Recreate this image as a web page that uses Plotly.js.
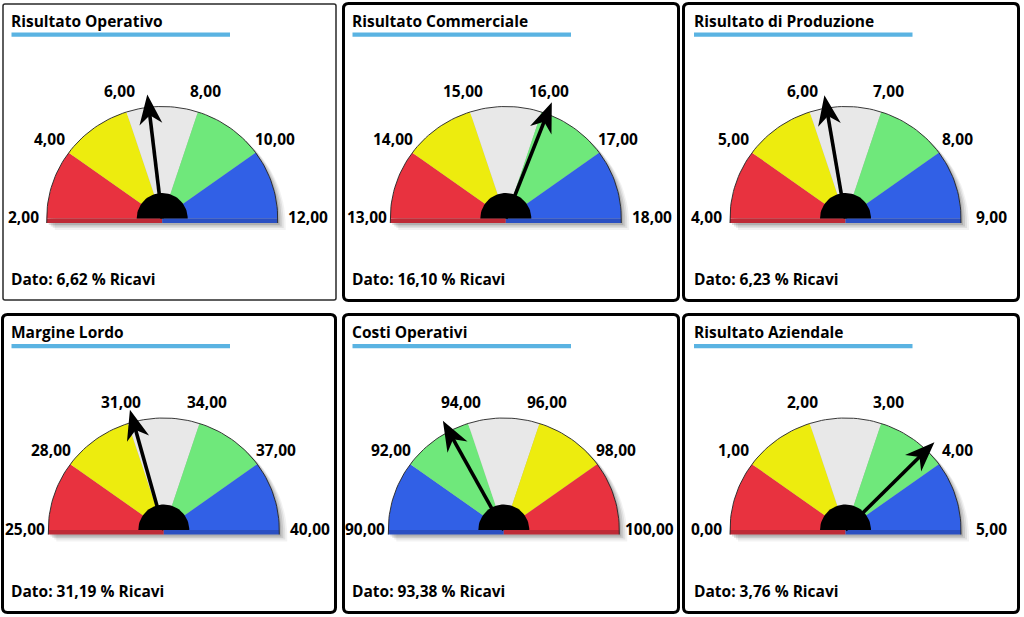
<!DOCTYPE html>
<html><head><meta charset="utf-8">
<script src="https://cdn.plot.ly/plotly-3.0.1.min.js"></script>
<style>html,body{margin:0;padding:0;background:#fff}#chart{width:1024px;height:617px}</style>
</head><body><div id="chart"></div>
<script>
// ---------- DATA ----------
const titles = ["Risultato Operativo","Risultato Commerciale","Risultato di Produzione","Margine Lordo","Costi Operativi","Risultato Aziendale"];
const scaleOperativo   = [2, 4, 6, 8, 10, 12];
const scaleCommerciale = [13, 14, 15, 16, 17, 18];
const scaleProduzione  = [4, 5, 6, 7, 8, 9];
const scaleMargine     = [25, 28, 31, 34, 37, 40];
const scaleCosti       = [90, 92, 94, 96, 98, 100];
const scaleAziendale   = [0, 1, 2, 3, 4, 5];
const values = [6.62, 16.10, 6.23, 31.19, 93.38, 3.76];
const reversedBands = [false, false, false, false, true, false];
const valuePrefix = "Dato:";
const unitLabel = "% Ricavi";
const scales = [scaleOperativo, scaleCommerciale, scaleProduzione, scaleMargine, scaleCosti, scaleAziendale];

// ---------- STYLE / LAYOUT ----------
const bandColors = ["#E8323F", "#EDEC0E", "#E8E8E8", "#6FE87B", "#3160E6"];
const stripDark = ["#BE2A36", "#2A4FC2"];
const panelBoxes = [
  [3, 4, 336, 300, 1.5, 2, "#2a2a2a"],
  [343.5, 3.5, 678.5, 300.5, 3, 5, "#000"],
  [683.5, 3.5, 1018.5, 300.5, 3, 5, "#000"],
  [2.5, 314.5, 335.5, 612.5, 3, 5, "#000"],
  [343.5, 314.5, 678.5, 612.5, 3, 5, "#000"],
  [683.5, 314.5, 1018.5, 612.5, 3, 5, "#000"]
];
const centerX = [162.2, 505.8, 845.5, 163.8, 503.8, 845.5];
const pivotY = [218.5, 218.5, 218.5, 530, 530, 530];
const textX = [11.5, 352.5, 694, 11.5, 352.5, 694];
const titleY = [20.5, 20.5, 20.5, 332, 332, 332];
const datoY = [278.5, 278.5, 278.5, 590.5, 590.5, 590.5];
const RX = 115.5, RY = 112, HUB = 25.5, STRIP = 4.5;
const LABEL_RX = 139, LABEL_RY = 133, LABEL_END_SHIFT = 7;
const NEEDLE = 125, HEADLEN = 30, HEADNOTCH = 21, HEADHALF = 11.5;
const TEXT_PAD = 2.5;
const FONT = {family: "Open Sans, sans-serif", size: 15.5, color: "#000", weight: 700};

const fmt = v => v.toFixed(2).replace('.', ',');

const traces = [];
const shapes = [];
const annotations = [];

function arcPts(cx, cy, rx, ry, a1, a2, n) {
  const xs = [], ys = [];
  for (let i = 0; i <= n; i++) {
    const a = a1 + (a2 - a1) * i / n;
    xs.push(cx + rx * Math.cos(a));
    ys.push(cy - ry * Math.sin(a));
  }
  return [xs, ys];
}
function poly(xs, ys, color) {
  traces.push({type: 'scatter', mode: 'lines', x: xs, y: ys, fill: 'toself',
    fillcolor: color, line: {width: 0, color: color}, hoverinfo: 'skip', showlegend: false});
}
function roundRect(x0, y0, x1, y1, r) {
  return `M${x0 + r},${y0} L${x1 - r},${y0} Q${x1},${y0} ${x1},${y0 + r} L${x1},${y1 - r} Q${x1},${y1} ${x1 - r},${y1} L${x0 + r},${y1} Q${x0},${y1} ${x0},${y1 - r} L${x0},${y0 + r} Q${x0},${y0} ${x0 + r},${y0} Z`;
}

for (let p = 0; p < 6; p++) {
  const sc = scales[p];
  const lo = sc[0], hi = sc[sc.length - 1];
  const cx = centerX[p], cy = pivotY[p];
  const ang = v => Math.PI * (1 - (v - lo) / (hi - lo));
  const rev = reversedBands[p];

  // panel border
  const b = panelBoxes[p];
  shapes.push({type: 'path', xref: 'x', yref: 'y', path: roundRect(b[0], b[1], b[2], b[3], b[5]),
    line: {color: b[6], width: b[4]}, fillcolor: 'rgba(0,0,0,0)', layer: 'below'});
  // title underline
  shapes.push({type: 'rect', xref: 'x', yref: 'y', x0: textX[p], x1: textX[p] + 218.5,
    y0: titleY[p] + 12, y1: titleY[p] + 16.2, fillcolor: '#5AB3E2', line: {width: 0}, layer: 'below'});

  // shadow
  [[8, 7, 0.05], [6, 5, 0.07], [4, 3.5, 0.1], [2, 2, 0.12]].forEach(s => {
    const [xs, ys] = arcPts(cx + s[0], cy + s[1], RX, RY, Math.PI, 0, 60);
    xs.push(cx + s[0] + RX, cx + s[0] - RX); ys.push(cy + s[1] + STRIP, cy + s[1] + STRIP);
    poly(xs, ys, `rgba(0,0,0,${s[2]})`);
  });

  // bands
  for (let k = 0; k < sc.length - 1; k++) {
    const [xs, ys] = arcPts(cx, cy, RX, RY, ang(sc[k]), ang(sc[k + 1]), 30);
    xs.unshift(cx); ys.unshift(cy); xs.push(cx); ys.push(cy);
    poly(xs, ys, bandColors[rev ? 4 - k : k]);
  }
  // base strip
  poly([cx - RX, cx, cx, cx - RX, cx - RX], [cy, cy, cy + STRIP, cy + STRIP, cy], rev ? stripDark[1] : stripDark[0]);
  poly([cx, cx + RX, cx + RX, cx, cx], [cy, cy, cy + STRIP, cy + STRIP, cy], rev ? stripDark[0] : stripDark[1]);
  // outline
  {
    const [xs, ys] = arcPts(cx, cy, RX, RY, Math.PI, 0, 90);
    xs.unshift(cx - RX); ys.unshift(cy + STRIP);
    xs.push(cx + RX); ys.push(cy + STRIP);
    traces.push({type: 'scatter', mode: 'lines', x: xs, y: ys, line: {color: 'rgba(35,35,35,0.9)', width: 1},
      hoverinfo: 'skip', showlegend: false});
  }

  // needle
  const a = ang(values[p]);
  const ux = Math.cos(a), uy = -Math.sin(a);
  const vx = Math.sin(a), vy = Math.cos(a);
  const P = (l, w) => [cx + l * ux + w * vx, cy + l * uy + w * vy];
  const s0 = P(0, 0), s1 = P(NEEDLE - HEADNOTCH + 2, 0);
  traces.push({type: 'scatter', mode: 'lines', x: [s0[0], s1[0]], y: [s0[1], s1[1]],
    line: {color: '#000', width: 3.6}, hoverinfo: 'skip', showlegend: false});
  const tip = P(NEEDLE, 0), bl = P(NEEDLE - HEADLEN, HEADHALF), nt = P(NEEDLE - HEADNOTCH, 0), br = P(NEEDLE - HEADLEN, -HEADHALF);
  poly([tip[0], bl[0], nt[0], br[0], tip[0]], [tip[1], bl[1], nt[1], br[1], tip[1]], '#000');

  // hub
  {
    const [xs, ys] = arcPts(cx, cy, HUB, HUB, Math.PI, 0, 40);
    poly(xs, ys, '#000');
  }

  // tick labels
  sc.forEach(v => {
    const t = fmt(v);
    const aa = ang(v);
    let x = cx + LABEL_RX * Math.cos(aa);
    if (Math.cos(aa) > 0.99) x += LABEL_END_SHIFT;
    const y = cy - 1.5 - LABEL_RY * Math.sin(aa);
    annotations.push({xref: 'x', yref: 'y', x: x, y: y, text: t, showarrow: false,
      xanchor: 'center', yanchor: 'middle', font: FONT});
  });

  // title & value text
  annotations.push({xref: 'x', yref: 'y', x: textX[p] - TEXT_PAD, y: titleY[p], text: titles[p], showarrow: false,
    xanchor: 'left', yanchor: 'middle', font: FONT});
  annotations.push({xref: 'x', yref: 'y', x: textX[p] - TEXT_PAD, y: datoY[p], text: `${valuePrefix} ${fmt(values[p])} ${unitLabel}`,
    showarrow: false, xanchor: 'left', yanchor: 'middle', font: FONT});
}

const layout = {
  width: 1024, height: 617,
  margin: {l: 0, r: 0, t: 0, b: 0},
  paper_bgcolor: '#fff', plot_bgcolor: '#fff',
  xaxis: {range: [0, 1024], visible: false, fixedrange: true},
  yaxis: {range: [617, 0], visible: false, fixedrange: true},
  showlegend: false,
  shapes: shapes,
  annotations: annotations
};
Plotly.newPlot('chart', traces, layout, {displayModeBar: false, staticPlot: true});
</script>
</body></html>
